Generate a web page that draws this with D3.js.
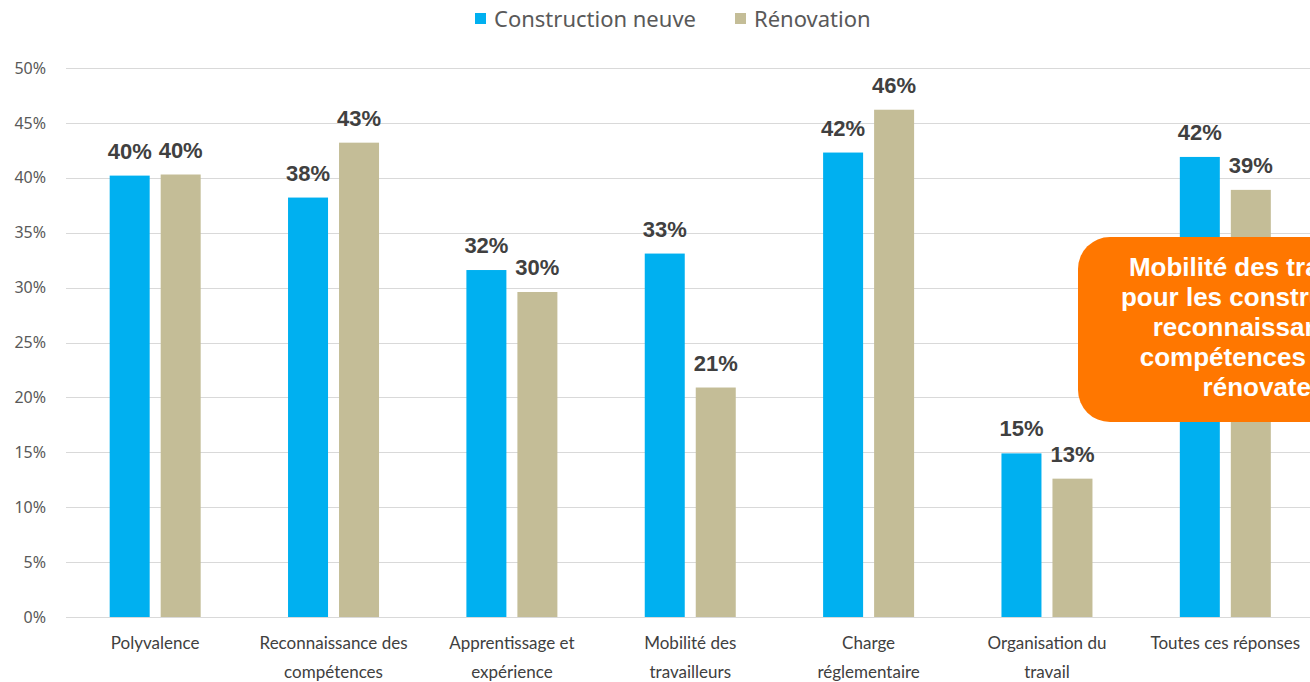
<!DOCTYPE html>
<html><head><meta charset="utf-8">
<script src="https://cdn.jsdelivr.net/npm/d3@7"></script>
<style>
html,body{margin:0;padding:0;background:#fff;overflow:hidden;}
svg{display:block;}
</style></head>
<body>
<svg id="chart" width="1310" height="682"></svg>
<script>
const categories = [
  ["Polyvalence"],
  ["Reconnaissance des", "compétences"],
  ["Apprentissage et", "expérience"],
  ["Mobilité des", "travailleurs"],
  ["Charge", "réglementaire"],
  ["Organisation du", "travail"],
  ["Toutes ces réponses"]
];
const seriesNames = ["Construction neuve", "Rénovation"];
const constructionNeuve = [40.2, 38.2, 31.6, 33.1, 42.3, 14.9, 41.9];
const renovation = [40.3, 43.2, 29.6, 20.9, 46.2, 12.6, 38.9];
const yTicks = [0, 5, 10, 15, 20, 25, 30, 35, 40, 45, 50];
const colors = ["#00B0F0", "#C4BD97"];
const calloutLines = ["Mobilité des travailleurs", "pour les constructeurs et", "reconnaissance des", "compétences pour les", "rénovateurs"];

const svg = d3.select("#chart");
const catKeys = categories.map(c => c.join(" "));
const series = [constructionNeuve, renovation];

const x0 = d3.scaleBand().domain(catKeys).range([66, 1314.5]);
const groupW = 91;
const x1 = d3.scaleBand().domain(seriesNames).range([0, groupW]).paddingInner(11/51);
const y = d3.scaleLinear().domain([0, 50]).range([617, 68]);

// gridlines
svg.append("g").selectAll("line").data(yTicks).join("line")
  .attr("x1", 66).attr("x2", 1320)
  .attr("y1", d => Math.round(y(d)) + 0.5).attr("y2", d => Math.round(y(d)) + 0.5)
  .attr("stroke", "#d9d9d9").attr("stroke-width", 1);

// y axis labels
const yAxis = d3.axisLeft(y).tickValues(yTicks).tickFormat(d => d + "%").tickSize(0).tickPadding(0);
const ga = svg.append("g").attr("transform", "translate(46,0)").call(yAxis);
ga.select(".domain").remove();
ga.selectAll("text").attr("fill", "#595959").attr("font-family", "'Noto Sans', 'Open Sans', sans-serif").attr("font-size", 16);

// bars
const rows = catKeys.map((k, i) => ({k, vals: series.map((s, j) => ({name: seriesNames[j], v: s[i], j}))}));
const groups = svg.append("g").selectAll("g").data(rows).join("g")
  .attr("transform", d => `translate(${x0(d.k) + (x0.bandwidth() - groupW) / 2},0)`);
groups.selectAll("rect").data(d => d.vals).join("rect")
  .attr("x", d => x1(d.name)).attr("width", x1.bandwidth())
  .attr("y", d => y(d.v)).attr("height", d => y(0) - y(d.v))
  .attr("fill", d => colors[d.j]);
groups.selectAll("text").data(d => d.vals).join("text")
  .attr("x", d => x1(d.name) + x1.bandwidth() / 2)
  .attr("y", d => y(d.v) - 17)
  .attr("text-anchor", "middle")
  .attr("font-family", "'Liberation Sans', Arial, sans-serif")
  .attr("font-weight", "bold").attr("font-size", 22)
  .attr("fill", "#404040")
  .text(d => Math.round(d.v) + "%");

// category labels
const cl = svg.append("g").selectAll("text").data(categories).join("text")
  .attr("x", (d, i) => x0(catKeys[i]) + x0.bandwidth() / 2)
  .attr("y", 649)
  .attr("text-anchor", "middle")
  .attr("font-family", "Lato, 'Noto Sans', sans-serif")
  .attr("font-size", 17).attr("fill", "#404040");
cl.selectAll("tspan").data(d => d).join("tspan")
  .attr("x", function() { return d3.select(this.parentNode).attr("x"); })
  .attr("dy", (d, i) => i === 0 ? 0 : 29)
  .text(d => d);

// legend
const legend = svg.append("g");
const legX = [475, 735];
seriesNames.forEach((n, i) => {
  legend.append("rect").attr("x", legX[i]).attr("y", 13).attr("width", 11).attr("height", 11).attr("fill", colors[i]);
  legend.append("text").attr("x", legX[i] + 19).attr("y", 27)
    .attr("font-family", "'Noto Sans', 'Open Sans', sans-serif").attr("font-size", 22)
    .attr("fill", "#595959").text(n);
});

// callout
const co = svg.append("g");
co.append("rect").attr("x", 1078).attr("y", 237).attr("width", 400).attr("height", 185)
  .attr("rx", 32).attr("fill", "#FF7700");
co.selectAll("text").data(calloutLines).join("text")
  .attr("x", 1277).attr("y", (d, i) => 276 + i * 30)
  .attr("text-anchor", "middle")
  .attr("font-family", "'Liberation Sans', Arial, sans-serif")
  .attr("font-weight", "bold").attr("font-size", 26).attr("fill", "#fff")
  .text(d => d);
</script>
</body></html>
